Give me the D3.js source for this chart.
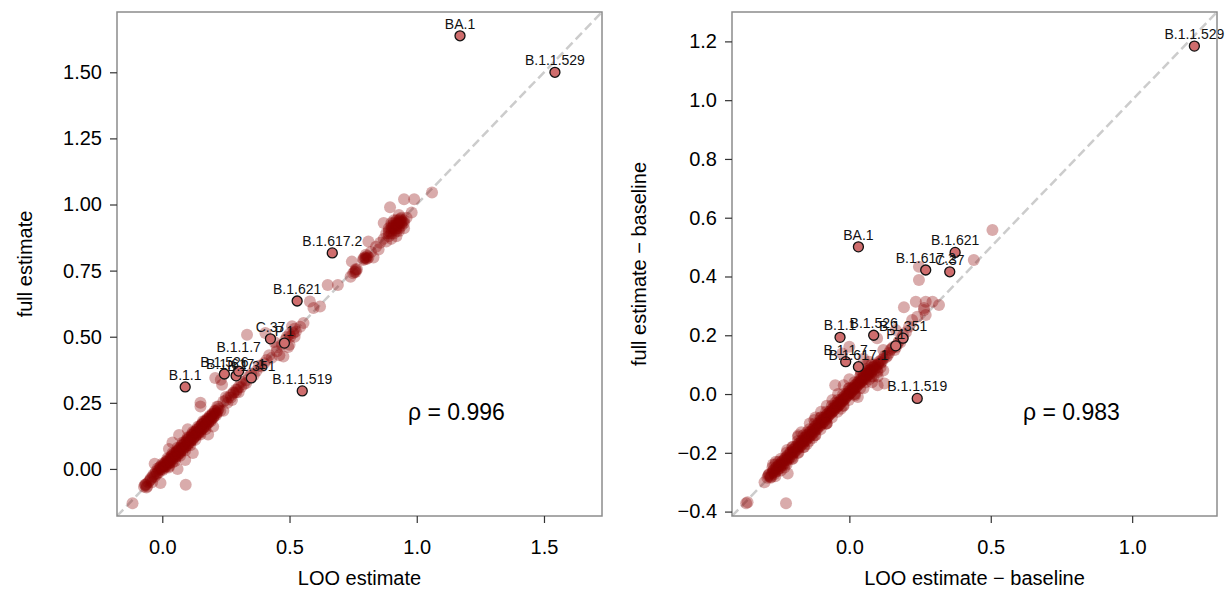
<!DOCTYPE html>
<html>
<head>
<meta charset="utf-8">
<script src="https://cdn.jsdelivr.net/npm/d3@7"></script>
<style>
  body { margin: 0; background: #fff; }
  svg { font-family: "Liberation Sans", Arial, sans-serif; }
  .tick text { font-size: 20px; fill: #000; }
  .tick line { stroke: #333; stroke-width: 1.2; }
  .domain { display: none; }
  .frame { fill: none; stroke: #8c8c8c; stroke-width: 1.5; }
  .diag { stroke: #cccccc; stroke-width: 2.5; stroke-dasharray: 9,4.5; }
  .pt { fill: #8b0000; fill-opacity: 0.33; }
  .hl { fill: #cf6d6d; stroke: #111; stroke-width: 1.3; }
  .lab { font-size: 14px; fill: #111; text-anchor: middle; }
  .axlab { font-size: 20px; fill: #000; text-anchor: middle; }
  .rho { font-size: 23px; fill: #000; }
</style>
</head>
<body>
<svg id="chart" width="1227" height="590"></svg>
<script>
// ---- data ----
var leftPoints = [
  [-0.072,-0.067],[-0.066,-0.062],[-0.06,-0.066],[-0.045,-0.035],[-0.035,-0.022],[-0.025,-0.01],[-0.018,0.002],
  [-0.012,-0.012],[-0.006,0.01],[0,0],[0.005,0.016],[0.01,0.004],[0.013,0.026],[0.018,0.018],[0.022,0.036],
  [0.026,0.01],[0.03,0.03],[0.035,0.046],[0.04,0.024],[0.043,0.056],[0.05,0.04],[0.055,0.062],[0.06,0.05],
  [0.065,0.072],[0.07,0.06],[0.075,0.086],[0.08,0.07],[0.085,0.092],[0.09,0.08],[0.095,0.102],[0.1,0.09],
  [0.105,0.116],[0.11,0.1],[0.115,0.122],[0.12,0.11],[0.125,0.132],[0.13,0.124],[0.135,0.146],[0.14,0.13],
  [0.145,0.152],[0.15,0.14],[0.155,0.166],[0.16,0.154],[0.165,0.172],[0.17,0.16],[0.175,0.182],[0.18,0.174],
  [0.185,0.192],[0.19,0.18],[0.195,0.2],[0.2,0.194],[0.205,0.21],[0.212,0.204],[0.218,0.222],[0.04,0.06],
  [0.06,0.08],[0.08,0.1],[0.1,0.12],[0.12,0.14],[0.14,0.16],[0.16,0.18],[0.02,0.04],[0.05,0.03],[0.07,0.05],
  [0.09,0.07],[0.11,0.09],[0.13,0.11],[0.15,0.13],[0.17,0.15],[0,0.02],[-0.01,0.005],[0.025,0.005],
  [-0.068,-0.06],[-0.062,-0.07],[-0.05,-0.045],[-0.03,-0.03],[-0.02,-0.015],[-0.008,-0.002],[0.003,0.008],
  [0.008,0.012],[0.015,0.01],[0.02,0.025],[0.028,0.022],[0.033,0.038],[0.038,0.035],[0.045,0.045],[0.048,0.052],
  [0.053,0.05],[0.058,0.065],[0.063,0.058],[0.068,0.075],[0.072,0.068],[0.078,0.08],[0.083,0.078],[0.088,0.095],
  [0.093,0.088],[0.098,0.108],[0.103,0.098],[0.108,0.11],[0.113,0.108],[0.118,0.128],[0.123,0.118],[0.128,0.138],
  [0.133,0.13],[0.138,0.14],[0.143,0.14],[0.148,0.158],[0.153,0.15],[0.158,0.17],[0.163,0.16],[0.168,0.178],
  [0.173,0.17],[0.178,0.188],[0.183,0.18],[0.188,0.198],[0.193,0.19],[0.198,0.21],[0.203,0.2],[0.208,0.218],
  [0.215,0.212],[0.222,0.228],[0.228,0.22],
  [-0.064,-0.058],[-0.055,-0.05],[-0.045,-0.04],[-0.038,-0.03],[-0.028,-0.018],[-0.022,-0.02],[-0.014,-0.004],
  [-0.004,0.004],[0.002,-0.004],[0.007,0.018],[0.012,0.012],[0.017,0.028],[0.023,0.02],[0.027,0.036],
  [0.032,0.026],[0.037,0.05],[0.042,0.04],[0.047,0.058],[0.052,0.046],[0.057,0.068],[0.062,0.056],[0.067,0.078],
  [0.071,0.066],[0.076,0.09],[0.081,0.076],[0.086,0.1],[0.091,0.086],[0.096,0.11],[0.101,0.096],[0.106,0.12],
  [0.111,0.106],[0.116,0.13],[0.121,0.116],[0.126,0.14],[0.131,0.126],[0.136,0.15],[0.141,0.136],[0.146,0.16],
  [0.151,0.146],[0.156,0.17],[0.161,0.156],[0.166,0.18],[0.171,0.166],[0.176,0.19],[0.181,0.176],[0.186,0.2],
  [0.191,0.186],[0.196,0.206],[0.201,0.196],[0.206,0.22],[0.211,0.21],
  [0.026,0.075],[0.066,0.128],[0.09,0.034],[0.15,0.236],[0.216,0.236],[0.256,0.25],[0.092,-0.06],
  [-0.007,-0.053],[-0.117,-0.13],[0.28,0.287],[0.23,0.337],[0.04,0.1],[0.12,0.06],[0.18,0.13],[-0.03,0.02],
  [0.2,0.16],[0.1,0.15],[0.24,0.22],[0.06,0],[-0.04,-0.05],
  [0.22,0.235],[0.24,0.255],[0.25,0.272],[0.27,0.28],[0.29,0.3],[0.3,0.29],[0.31,0.33],[0.33,0.325],
  [0.35,0.36],[0.37,0.37],[0.39,0.387],[0.41,0.412],[0.43,0.42],[0.45,0.445],[0.476,0.425],[0.483,0.488],
  [0.495,0.461],[0.503,0.5],[0.515,0.514],[0.525,0.52],[0.542,0.538],[0.555,0.552],[0.51,0.54],[0.405,0.514],
  [0.333,0.507],[0.208,0.344],[0.235,0.318],[0.294,0.299],[0.274,0.261],[0.15,0.25],[0.44,0.48],[0.46,0.43],
  [0.5,0.47],[0.26,0.27],[0.28,0.29],[0.3,0.31],[0.32,0.32],[0.34,0.35],[0.36,0.355],[0.38,0.39],[0.4,0.4],
  [0.42,0.43],[0.49,0.5],[0.52,0.53],[0.25,0.26],[0.27,0.27],[0.29,0.29],[0.31,0.31],[0.33,0.335],[0.45,0.46],
  [0.47,0.47],[0.5,0.51],[0.52,0.5],
  [0.58,0.633],[0.594,0.609],[0.62,0.614],[0.65,0.696],[0.69,0.696],[0.74,0.727],[0.745,0.784],[0.755,0.745],
  [0.76,0.75],[0.765,0.755],[0.79,0.79],[0.8,0.8],[0.805,0.795],[0.81,0.8],[0.8,0.81],[0.81,0.86],[0.856,0.855],
  [0.85,0.83],[0.87,0.93],[0.895,0.99],[0.98,0.97],[0.95,1.02],[0.99,1.02],[1.06,1.045],
  [0.88,0.89],[0.89,0.91],[0.9,0.9],[0.9,0.93],[0.91,0.92],[0.91,0.89],[0.92,0.94],[0.92,0.91],[0.93,0.93],
  [0.93,0.9],[0.94,0.95],[0.94,0.92],[0.95,0.94],[0.95,0.91],[0.96,0.95],[0.89,0.88],[0.9,0.87],[0.92,0.88],
  [0.935,0.945],[0.905,0.915],[0.915,0.905],[0.925,0.925],[0.945,0.935],[0.91,0.94],[0.93,0.96],[0.87,0.87],
  [0.88,0.86],[0.9,0.91],[0.91,0.91],[0.92,0.92],[0.93,0.92],[0.94,0.94],[0.92,0.93],[0.9,0.89],[0.93,0.94],
  [0.95,0.93],[0.89,0.9],[0.8,0.795],[0.76,0.755],[0.82,0.82],[0.84,0.84],[0.83,0.8],
  [0.91,0.93],[0.92,0.9],[0.93,0.91],[0.94,0.93],[0.9,0.92],[0.89,0.89],[0.92,0.925],[0.935,0.935],
  [0.795,0.8],[0.805,0.805],[0.79,0.795],[0.76,0.745],[0.75,0.74]
];
var rightPoints = [
  [-0.29,-0.285],[-0.283,-0.272],[-0.277,-0.282],[-0.27,-0.262],[-0.265,-0.272],[-0.26,-0.252],[-0.255,-0.262],
  [-0.25,-0.242],[-0.245,-0.252],[-0.24,-0.232],[-0.235,-0.242],[-0.23,-0.222],[-0.225,-0.235],[-0.22,-0.212],
  [-0.215,-0.222],[-0.21,-0.2],[-0.205,-0.215],[-0.2,-0.19],[-0.195,-0.2],[-0.19,-0.18],[-0.185,-0.19],
  [-0.18,-0.17],[-0.175,-0.18],[-0.17,-0.16],[-0.165,-0.17],[-0.16,-0.15],[-0.155,-0.16],[-0.15,-0.14],
  [-0.145,-0.15],[-0.14,-0.13],[-0.135,-0.14],[-0.13,-0.12],[-0.125,-0.13],[-0.12,-0.11],[-0.115,-0.12],
  [-0.11,-0.1],[-0.105,-0.11],[-0.1,-0.09],[-0.095,-0.1],[-0.09,-0.08],[-0.085,-0.09],[-0.08,-0.07],
  [-0.075,-0.075],[-0.07,-0.06],[-0.065,-0.065],[-0.06,-0.05],[-0.055,-0.055],[-0.05,-0.04],[-0.045,-0.045],
  [-0.04,-0.03],[-0.035,-0.035],[-0.03,-0.02],[-0.025,-0.025],[-0.02,-0.01],[-0.015,-0.015],[-0.01,0],
  [-0.005,-0.005],[0,0.01],[0.005,0.005],[0.01,0.02],[0.015,0.015],[0.02,0.03],[0.025,0.025],[0.03,0.04],
  [0.035,0.035],[0.04,0.05],[0.045,0.045],[0.05,0.06],[0.055,0.05],[0.06,0.07],[0.065,0.065],[0.07,0.08],
  [0.075,0.07],[0.08,0.09],[0.09,0.085],[0.1,0.1],[0.11,0.105],[0.12,0.12],[0.13,0.125],[0.14,0.14],
  [0.15,0.155],[0.16,0.15],[0.17,0.17],[0.18,0.175],[0.19,0.2],[0.2,0.21],
  [-0.287,-0.278],[-0.28,-0.28],[-0.273,-0.27],[-0.267,-0.258],[-0.262,-0.265],[-0.257,-0.248],[-0.252,-0.255],
  [-0.247,-0.24],[-0.242,-0.245],[-0.237,-0.228],[-0.232,-0.235],[-0.227,-0.218],[-0.222,-0.225],[-0.217,-0.208],
  [-0.212,-0.215],[-0.207,-0.198],[-0.202,-0.205],[-0.197,-0.188],[-0.192,-0.195],[-0.187,-0.178],[-0.182,-0.185],
  [-0.177,-0.168],[-0.172,-0.175],[-0.167,-0.158],[-0.162,-0.165],[-0.157,-0.148],[-0.152,-0.155],[-0.147,-0.138],
  [-0.142,-0.145],[-0.137,-0.128],[-0.132,-0.135],[-0.127,-0.118],[-0.122,-0.125],[-0.117,-0.108],[-0.112,-0.115],
  [-0.107,-0.098],[-0.102,-0.105],[-0.097,-0.088],[-0.092,-0.095],[-0.087,-0.078],[-0.082,-0.085],[-0.077,-0.068],
  [-0.072,-0.072],[-0.067,-0.058],[-0.062,-0.062],[-0.057,-0.048],[-0.052,-0.052],[-0.047,-0.038],[-0.042,-0.042],
  [-0.037,-0.028],[-0.032,-0.032],[-0.027,-0.018],[-0.022,-0.022],[-0.017,-0.008],[-0.012,-0.012],[-0.007,0.002],
  [-0.002,-0.002],[0.003,0.012],[0.008,0.008],[0.013,0.022],[0.018,0.018],[0.023,0.032],[0.028,0.028],[0.033,0.042],
  [0.038,0.038],[0.043,0.052],[0.048,0.048],[0.053,0.062],[0.058,0.055],[0.063,0.072],[0.068,0.068],[0.073,0.082],
  [0.078,0.075],[0.085,0.092],[0.095,0.09],[0.105,0.11],[0.115,0.11],[0.125,0.13],[0.135,0.13],[0.145,0.15],
  [0.155,0.16],[0.165,0.16],[0.175,0.18],[0.185,0.19],
  [-0.285,-0.275],[-0.278,-0.285],[-0.268,-0.265],[-0.258,-0.258],[-0.248,-0.245],[-0.238,-0.238],[-0.228,-0.225],
  [-0.218,-0.218],[-0.208,-0.205],[-0.198,-0.198],[-0.188,-0.185],[-0.178,-0.178],[-0.168,-0.165],[-0.158,-0.158],
  [-0.148,-0.145],[-0.138,-0.138],[-0.128,-0.125],[-0.118,-0.118],[-0.108,-0.105],[-0.098,-0.098],[-0.088,-0.085],
  [-0.078,-0.078],[-0.068,-0.065],[-0.058,-0.058],[-0.048,-0.045],[-0.038,-0.038],[-0.028,-0.025],[-0.018,-0.018],
  [-0.008,-0.005],[0.002,0.002],[0.012,0.015],[0.022,0.022],[0.032,0.035],[0.042,0.042],[0.052,0.055],[0.062,0.062],
  [0.072,0.075],[0.082,0.082],[0.092,0.095],[0.102,0.102],[0.112,0.115],
  [-0.272,-0.25],[-0.262,-0.24],[-0.242,-0.22],[-0.222,-0.2],[-0.202,-0.18],[-0.182,-0.16],[-0.162,-0.14],
  [-0.142,-0.12],[-0.122,-0.1],[-0.102,-0.08],[-0.082,-0.06],[-0.062,-0.04],[-0.042,-0.02],[-0.022,0],
  [-0.002,0.02],[0.018,0.04],[0.038,0.06],[0.058,0.08],[0.078,0.1],
  [-0.262,-0.28],[-0.242,-0.26],[-0.222,-0.24],[-0.202,-0.22],[-0.182,-0.2],[-0.162,-0.18],[-0.142,-0.16],
  [-0.122,-0.14],[-0.102,-0.12],[-0.082,-0.1],[-0.062,-0.08],[-0.042,-0.06],[-0.022,-0.04],[-0.002,-0.02],
  [0.018,0],[0.038,0.02],[0.058,0.04],[0.078,0.06],[0.098,0.08],
  [-0.25,-0.23],[-0.23,-0.25],[-0.2,-0.18],[-0.18,-0.2],[-0.15,-0.13],[-0.13,-0.15],[-0.1,-0.08],[-0.08,-0.1],
  [-0.05,-0.03],[-0.03,-0.05],[0,0.02],[0.02,-0.005],[0.05,0.07],[0.07,0.05],[0.09,0.1],[0.11,0.09],
  [0.04,0.065],[0.085,0.06],[0.1,0.075],[0.06,0.085],
  [0,0.05],[-0.02,0.03],[0.02,0],[0.05,0.02],[0.06,0.1],[0.08,0.04],[0.1,0.06],[0.04,0.08],[-0.04,0],
  [-0.06,-0.02],[-0.02,-0.04],[0.03,-0.01],[0.1,0.03],[0.12,0.08],[0.07,0.11],[-0.1,-0.06],[-0.14,-0.1],
  [-0.18,-0.14],[-0.22,-0.19],[-0.26,-0.23],[-0.2,-0.22],[-0.16,-0.18],[-0.12,-0.14],[-0.08,-0.1],
  [-0.365,-0.372],[-0.36,-0.368],[-0.224,-0.372],[-0.124,-0.088],[-0.182,-0.145],[-0.218,-0.27],[-0.3,-0.3],
  [-0.27,-0.24],[-0.15,-0.17],[-0.17,-0.13],[-0.12,-0.08],[-0.08,-0.04],[0.124,0.036],[-0.05,0.03],
  [0,0.161],[-0.025,0.138],[0.164,0.218],[0.211,0.229],[0.24,0.263],[0.264,0.286],[0.235,0.314],[0.27,0.314],
  [0.294,0.314],[0.317,0.303],[0.264,0.293],[0.27,0.269],[0.222,0.252],[0.193,0.295],[0.246,0.433],
  [0.246,0.388],[0.44,0.456],[0.506,0.558],[0.098,0.19],[0.12,0.15],[0.05,0.12]
];

var lineages = ["BA.1", "B.1.1.529", "B.1.617.2", "B.1.621", "C.37", "P.1", "B.1.1", "B.1.1.519",
                "B.1.526", "B.1.617.1", "B.1.351", "B.1.1.7"];
var leftLoo  = [1.17, 1.543, 0.668, 0.53, 0.425, 0.48, 0.09, 0.55, 0.244, 0.29, 0.35, 0.30];
var leftFull = [1.638, 1.50, 0.817, 0.635, 0.492, 0.476, 0.31, 0.295, 0.359, 0.352, 0.344, 0.37];
var rightLoo  = [0.032, 1.22, 0.27, 0.374, 0.355, 0.164, -0.033, 0.24, 0.086, 0.032, 0.19, -0.013];
var rightFull = [0.501, 1.184, 0.422, 0.482, 0.416, 0.164, 0.193, -0.015, 0.20, 0.093, 0.19, 0.11];

var leftXTicks = [0, 0.5, 1, 1.5];
var leftYTicks = [0, 0.25, 0.5, 0.75, 1, 1.25, 1.5];
var rightXTicks = [0, 0.5, 1];
var rightYTicks = [-0.4, -0.2, 0, 0.2, 0.4, 0.6, 0.8, 1, 1.2];

var svg = d3.select("#chart");

function drawPanel(o) {
  var g = svg.append("g");
  var x = d3.scaleLinear().domain(o.domain).range([o.left, o.right]);
  var y = d3.scaleLinear().domain(o.domain).range([o.bottom, o.top]);

  var clipId = "clip" + o.id;
  svg.append("clipPath").attr("id", clipId).append("rect")
    .attr("x", o.left).attr("y", o.top)
    .attr("width", o.right - o.left).attr("height", o.bottom - o.top);

  var inner = g.append("g").attr("clip-path", "url(#" + clipId + ")");
  inner.append("line").attr("class", "diag")
    .attr("x1", x(o.domain[0])).attr("y1", y(o.domain[0]))
    .attr("x2", x(o.domain[1])).attr("y2", y(o.domain[1]));

  inner.selectAll("circle.pt").data(o.points).enter().append("circle")
    .attr("class", "pt")
    .attr("cx", function (d) { return x(d[0]); })
    .attr("cy", function (d) { return y(d[1]); })
    .attr("r", 6);

  var hl = o.names.map(function (n, i) { return {name: n, x: o.hx[i], y: o.hy[i]}; });
  inner.selectAll("circle.hl").data(hl).enter().append("circle")
    .attr("class", "hl")
    .attr("cx", function (d) { return x(d.x); })
    .attr("cy", function (d) { return y(d.y); })
    .attr("r", 5);
  g.selectAll("text.lab").data(hl).enter().append("text")
    .attr("class", "lab")
    .attr("x", function (d) { return x(d.x); })
    .attr("y", function (d) { return y(d.y) - 7 - (o.lift[d.name] || 0); })
    .text(function (d) { return d.name; });

  g.append("rect").attr("class", "frame")
    .attr("x", o.left).attr("y", o.top)
    .attr("width", o.right - o.left).attr("height", o.bottom - o.top);

  g.append("g").attr("transform", "translate(0," + o.bottom + ")")
    .call(d3.axisBottom(x).tickValues(o.xTicks).tickFormat(d3.format(".1f")).tickSize(7).tickPadding(7))
    .call(function (a) { a.selectAll("text").attr("dy", "1.22em"); });
  g.append("g").attr("transform", "translate(" + o.left + ",0)")
    .call(d3.axisLeft(y).tickValues(o.yTicks).tickFormat(d3.format(o.yFmt)).tickSize(7).tickPadding(8));
  g.selectAll(".tick text").attr("font-family", null).attr("font-size", null);

  g.append("text").attr("class", "axlab")
    .attr("x", (o.left + o.right) / 2).attr("y", 585).text(o.xLabel);
  g.append("text").attr("class", "axlab")
    .attr("transform", "translate(" + o.yLabelX + "," + (o.top + o.bottom) / 2 + ") rotate(-90)")
    .text(o.yLabel);

  g.append("text").attr("class", "rho")
    .attr("x", o.left + 0.6 * (o.right - o.left))
    .attr("y", o.bottom - 0.19 * (o.bottom - o.top))
    .text(o.rho);
}

drawPanel({
  id: "L", left: 117, right: 602, top: 12, bottom: 516, domain: [-0.178, 1.728],
  points: leftPoints, names: lineages, hx: leftLoo, hy: leftFull, lift: {"B.1.1.7": 12},
  xTicks: leftXTicks, yTicks: leftYTicks, yFmt: ".2f",
  xLabel: "LOO estimate", yLabel: "full estimate", yLabelX: 32, rho: "\u03c1 = 0.996"
});
drawPanel({
  id: "R", left: 732, right: 1217, top: 12, bottom: 516, domain: [-0.415, 1.30],
  points: rightPoints, names: lineages, hx: rightLoo, hy: rightFull, lift: {},
  xTicks: rightXTicks, yTicks: rightYTicks, yFmt: ".1f",
  xLabel: "LOO estimate \u2212 baseline", yLabel: "full estimate \u2212 baseline", yLabelX: 646, rho: "\u03c1 = 0.983"
});
</script>
</body>
</html>
